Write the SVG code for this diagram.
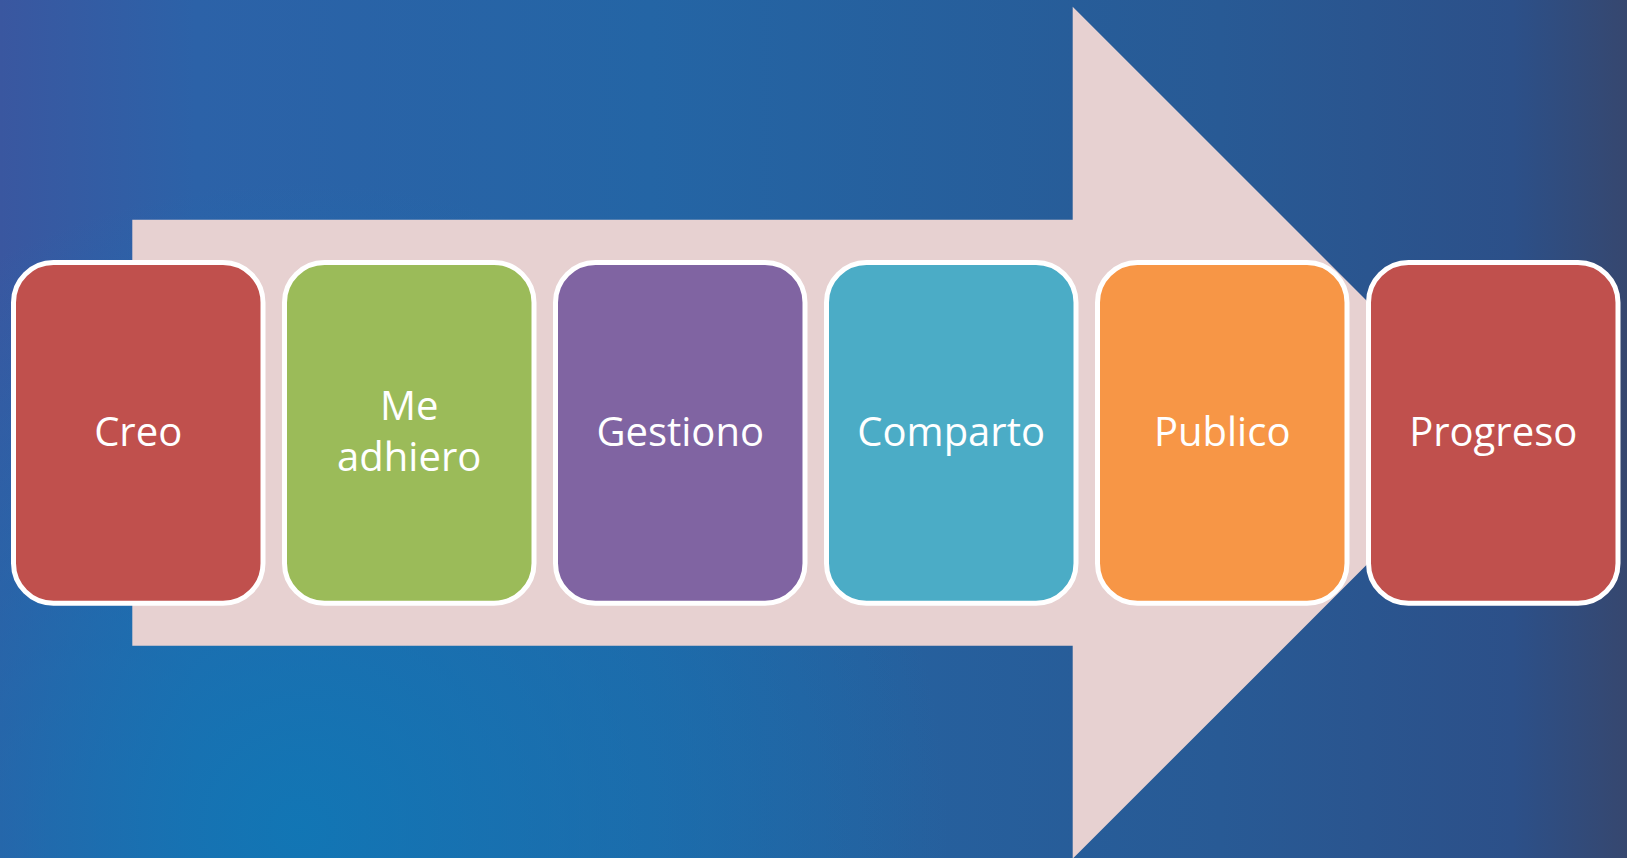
<svg xmlns="http://www.w3.org/2000/svg" width="1627" height="858" viewBox="0 0 1627 858">
  <defs>
    <linearGradient id="bgH" x1="0" y1="0" x2="1" y2="0">
      <stop offset="0" stop-color="#3A57A0"/>
      <stop offset="0.12" stop-color="#2C62A8"/>
      <stop offset="0.4" stop-color="#2465A5"/>
      <stop offset="0.75" stop-color="#285A95"/>
      <stop offset="0.93" stop-color="#2C5089"/>
      <stop offset="1" stop-color="#36476F"/>
    </linearGradient>
    <radialGradient id="bgGlow" cx="300" cy="830" r="650" gradientUnits="userSpaceOnUse">
      <stop offset="0" stop-color="#0F78B6" stop-opacity="0.9"/>
      <stop offset="1" stop-color="#0F78B6" stop-opacity="0"/>
    </radialGradient>
  </defs>
  <style>
    .box { stroke: #FFFFFF; stroke-width: 5; }
    .lbl { font-family: "Open Sans", "Liberation Sans", sans-serif; font-size: 40px; fill: #FFFFFF; text-anchor: middle; }
  </style>
  <rect x="0" y="0" width="1627" height="858" fill="url(#bgH)"/>
  <rect x="0" y="0" width="1627" height="858" fill="url(#bgGlow)"/>
  <g id="arrow">
    <polygon points="132.3,219.7 1072.7,219.7 1072.7,6.7 1498.7,432.7 1072.7,858.7 1072.7,645.7 132.3,645.7" fill="#E7D1D1"/>
  </g>
  <g id="connectors"></g>
  <g id="node-creo">
    <rect class="box" x="13.5" y="262.5" width="249.5" height="340.7" rx="40" ry="40" fill="#C0504D"/>
    <text class="lbl" x="138.2" y="446">Creo</text>
  </g>
  <g id="node-adhiero">
    <rect class="box" x="284.5" y="262.5" width="249.5" height="340.7" rx="40" ry="40" fill="#9BBB59"/>
    <text class="lbl" x="409.2" y="419.5">Me</text>
    <text class="lbl" x="409.2" y="471">adhiero</text>
  </g>
  <g id="node-gestiono">
    <rect class="box" x="555.5" y="262.5" width="249.5" height="340.7" rx="40" ry="40" fill="#8064A2"/>
    <text class="lbl" x="680.2" y="446">Gestiono</text>
  </g>
  <g id="node-comparto">
    <rect class="box" x="826.5" y="262.5" width="249.5" height="340.7" rx="40" ry="40" fill="#4BACC6"/>
    <text class="lbl" x="951.2" y="446">Comparto</text>
  </g>
  <g id="node-publico">
    <rect class="box" x="1097.5" y="262.5" width="249.5" height="340.7" rx="40" ry="40" fill="#F79646"/>
    <text class="lbl" x="1222.2" y="446">Publico</text>
  </g>
  <g id="node-progreso">
    <rect class="box" x="1368.5" y="262.5" width="249.5" height="340.7" rx="40" ry="40" fill="#C0504D"/>
    <text class="lbl" x="1493.2" y="446">Progreso</text>
  </g>
</svg>
